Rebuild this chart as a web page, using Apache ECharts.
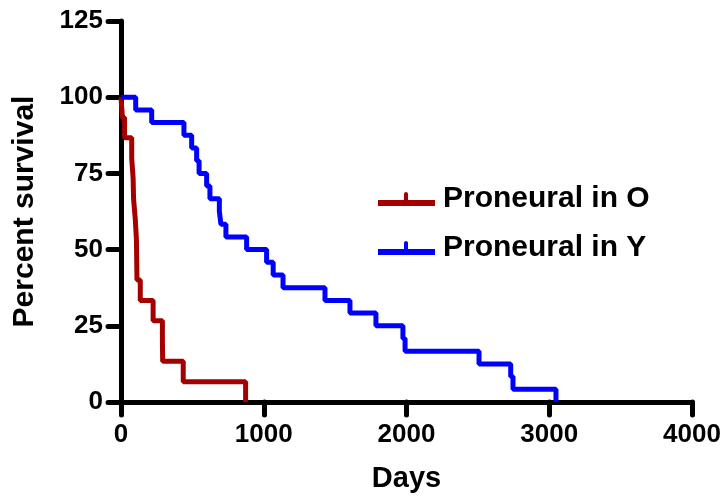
<!DOCTYPE html>
<html>
<head>
<meta charset="utf-8">
<script src="https://cdn.jsdelivr.net/npm/echarts@6/dist/echarts.min.js"></script>
<style>
  html,body{margin:0;padding:0;background:#fff;}
  #main{width:726px;height:496px;}
</style>
</head>
<body>
<div id="main"></div>
<script>
// Kaplan-Meier steps: day of event, survival (%) after that event
var oDays = [0, 10, 25, 75, 85, 88, 100, 108, 110, 112, 135, 225, 290, 292, 436, 873];
var oSurv = [100, 93.33, 86.67, 80, 73.33, 66.67, 60, 53.33, 46.67, 40, 33.33, 26.67, 20, 13.33, 6.67, 0];

var yDays = [0, 103, 215, 441, 495, 530, 547, 600, 623, 689, 700, 735, 880, 1020, 1066, 1135, 1429, 1604, 1786, 1975, 1990, 2508, 2730, 2746, 3047];
var ySurv = [100, 95.83, 91.67, 87.5, 83.33, 79.17, 75, 70.83, 66.67, 62.5, 58.33, 54.17, 50, 45.83, 41.67, 37.5, 33.33, 29.17, 25, 20.83, 16.67, 12.5, 8.33, 4.17, 0];

var seriesNames = ['Proneural in O', 'Proneural in Y'];
var xTicks = [0, 4000, 1000];
var yTicks = [0, 125, 25];

function pairs(xs, ys){
  var out = [];
  for (var i = 0; i < xs.length; i++) out.push([xs[i], ys[i]]);
  return out;
}

var chart = echarts.init(document.getElementById('main'));
var font = 'Liberation Sans, Arial, sans-serif';
// legend line with a little censor tick on top
var legendIcon = 'path://M0,8L57,8L57,14L0,14Z M26,2A2,2 0 0 1 30,2L30,8L26,8Z';

var axisCommon = {
  axisLine: {lineStyle: {color: '#000', width: 5}},
  axisTick: {length: 13, lineStyle: {color: '#000', width: 5, cap: 'round'}},
  splitLine: {show: false}
};

var option = {
  animation: false,
  color: ['#a50000', '#0000ff'],
  textStyle: {fontFamily: font},
  grid: {left: 121, right: 34, top: 21, bottom: 94, outerBoundsMode: 'none'},
  legend: {
    orient: 'vertical',
    left: 378,
    top: 184,
    padding: 0,
    itemWidth: 57,
    itemHeight: 14,
    itemGap: 19,
    icon: legendIcon,
    data: seriesNames,
    textStyle: {fontSize: 30, fontWeight: 'bold', color: '#000', fontFamily: font, padding: [0, 0, 0, 3]}
  },
  xAxis: Object.assign({
    type: 'value',
    min: xTicks[0], max: xTicks[1], interval: xTicks[2],
    name: 'Days',
    nameLocation: 'middle',
    nameGap: 62,
    nameTextStyle: {fontSize: 29, fontWeight: 'bold', color: '#000'},
    axisLabel: {fontSize: 26, fontWeight: 'bold', color: '#000', margin: 20,
      formatter: function (v) { return String(v); }}
  }, axisCommon),
  yAxis: Object.assign({
    type: 'value',
    min: yTicks[0], max: yTicks[1], interval: yTicks[2],
    name: 'Percent survival',
    nameLocation: 'middle',
    nameGap: 81,
    nameTextStyle: {fontSize: 30, fontWeight: 'bold', color: '#000'},
    axisLabel: {fontSize: 26, fontWeight: 'bold', color: '#000', margin: 18}
  }, axisCommon),
  series: [{
    name: seriesNames[0],
    type: 'line',
    step: 'end',
    symbol: 'none',
    lineStyle: {width: 5},
    data: pairs(oDays, oSurv)
  }, {
    name: seriesNames[1],
    type: 'line',
    step: 'end',
    symbol: 'none',
    lineStyle: {width: 5},
    data: pairs(yDays, ySurv)
  }]
};

chart.setOption(option);
</script>
</body>
</html>
